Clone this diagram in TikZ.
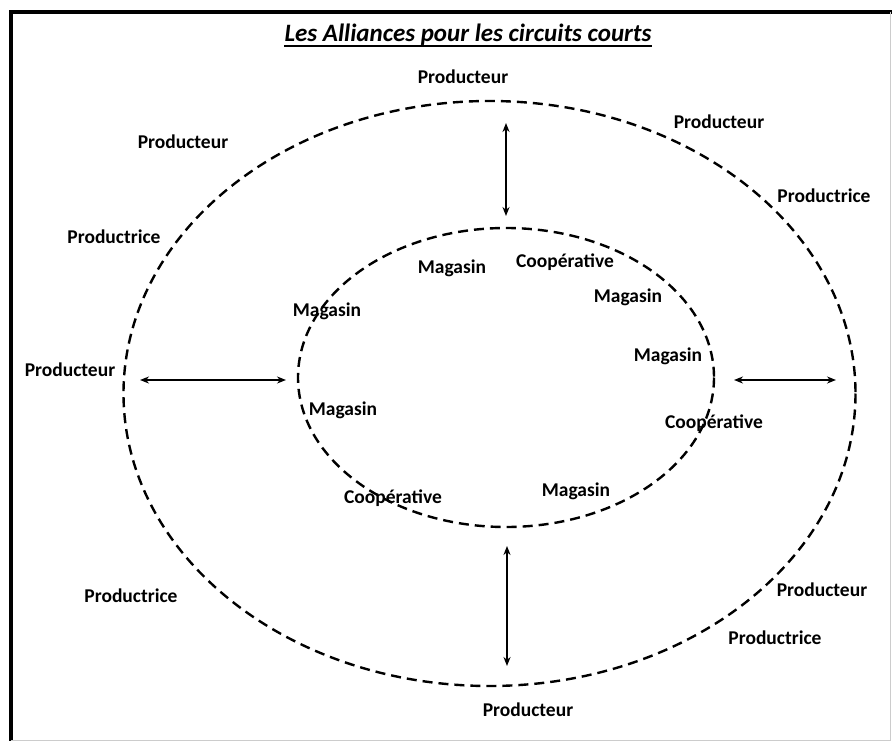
\documentclass[tikz,border=0pt]{standalone}
\usepackage{fontspec}
\setmainfont{Carlito}
\usetikzlibrary{arrows.meta}
\begin{document}
\begin{tikzpicture}[x=1pt,y=-1pt,
  lab/.style={font=\fontsize{19.5}{21}\selectfont\bfseries, inner sep=0pt},
  ring/.style={line width=2.4pt, dash pattern=on 10pt off 6pt},
  link/.style={line width=2pt, {Stealth[length=9pt,width=7pt]}-{Stealth[length=9pt,width=7pt]}}]
\useasboundingbox (0,0) rectangle (892,741);
\fill[white] (0,0) rectangle (892,741);
% frame
\draw[line width=3.2pt] (11,741) -- (11,12) -- (892,12);
\draw[line width=0.8pt, black!20] (890,12) -- (890,740) -- (11,740);
% title
\node[inner sep=0pt, anchor=base] (title) at (468,42) {\fontsize{25}{27}\selectfont\bfseries\itshape Les Alliances pour les circuits courts};
\draw[line width=2.2pt] ([yshift=-4pt]title.base west) -- ([yshift=-4pt]title.base east);
% ellipses
\draw[ring] (489.5,393.5) ellipse [x radius=366, y radius=292.5];
\draw[ring] (506,377.5) ellipse [x radius=208, y radius=149.5];
% arrow endpoints
\coordinate (t1) at (506,123); \coordinate (t2) at (506,216);
\coordinate (b1) at (507,546); \coordinate (b2) at (507,666);
\coordinate (l1) at (140,380); \coordinate (l2) at (286,380);
\coordinate (r1) at (734,380); \coordinate (r2) at (836,380);
\draw[link] (t1) -- (t2);
\draw[link] (b1) -- (b2);
\draw[link] (l1) -- (l2);
\draw[link] (r1) -- (r2);
% outer labels
\node[lab] (p1) at (463,77) {Producteur};
\node[lab] (p2) at (183,142) {Producteur};
\node[lab] (p3) at (719,122) {Producteur};
\node[lab] (p4) at (824,196) {Productrice};
\node[lab] (p5) at (114,237) {Productrice};
\node[lab] (p6) at (70,370) {Producteur};
\node[lab] (p7) at (131,596) {Productrice};
\node[lab] (p8) at (822,590) {Producteur};
\node[lab] (p9) at (775,638) {Productrice};
\node[lab] (p10) at (528,710) {Producteur};
% inner labels
\node[lab] (m1) at (452,268) {Magasin};
\node[lab] (c1) at (565,262) {Coopérative};
\node[lab] (m2) at (628,297) {Magasin};
\node[lab] (m3) at (327,311) {Magasin};
\node[lab] (m4) at (668,356) {Magasin};
\node[lab] (m5) at (343,410) {Magasin};
\node[lab] (c2) at (714,423) {Coopérative};
\node[lab] (c3) at (393,498) {Coopérative};
\node[lab] (m6) at (576,491) {Magasin};
\end{tikzpicture}
\end{document}
